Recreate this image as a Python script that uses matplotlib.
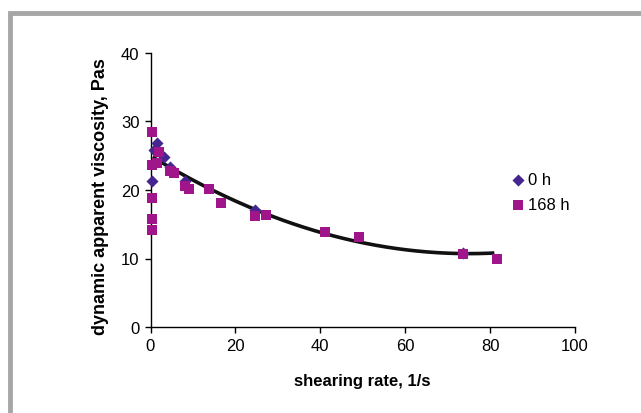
import numpy as np
import matplotlib
matplotlib.use("Agg")
import matplotlib.pyplot as plt
from matplotlib.lines import Line2D

# 0 h series
x_0h = [0.4, 0.8, 1.6, 3.1, 4.7, 8.2, 24.7, 73.6]
y_0h = [21.3, 25.9, 26.9, 24.8, 23.3, 21.3, 17.1, 10.8]

# 168 h series
x_168h = [0.4, 0.4, 0.4, 0.4, 0.4, 1.6, 1.9, 4.7, 5.5, 8.2, 9.0, 13.7, 16.5,
          24.7, 27.3, 41.0, 49.0, 73.6, 81.7]
y_168h = [28.5, 23.7, 18.9, 15.8, 14.2, 24.0, 25.5, 22.8, 22.5, 20.6, 20.1,
          20.1, 18.1, 16.2, 16.3, 13.9, 13.1, 10.7, 9.9]

# polynomial trend line coefficients (a*x^2 + b*x + c) and range
trend_coef = [0.00254, -0.381, 25.0]
trend_range = [0.5, 81.0]

x_ticks = [0, 20, 40, 60, 80, 100]
y_ticks = [0, 10, 20, 30, 40]

plt.rcParams['font.family'] = ['Liberation Sans', 'DejaVu Sans']

W, H = 641, 414
fig = plt.figure(figsize=(W / 100, H / 100), dpi=100)

# gray outer frame (only top and left edges visible)
fx, fy = 10 / W, 1 - 14 / H
fig.add_artist(Line2D([fx, fx, 1.05], [-0.05, fy, fy], transform=fig.transFigure,
                      color='#a6a6a6', linewidth=3.5, solid_joinstyle='miter'))

ax = fig.add_axes([150.5 / W, 1 - 328 / H, (575 - 150.5) / W, (328 - 54) / H])

tx = np.linspace(trend_range[0], trend_range[1], 200)
ax.plot(tx, np.polyval(trend_coef, tx), color='#111111', lw=2.6, zorder=3,
        solid_capstyle='butt')

ax.scatter(x_0h, y_0h, marker='D', s=38, color='#45258f', zorder=4,
           linewidths=0, label='0 h', clip_on=False)
ax.scatter(x_168h, y_168h, marker='s', s=60, color='#a0168a', zorder=5,
           linewidths=0, label='168 h', clip_on=False)

ax.set_xlim(0, 100)
ax.set_ylim(0, 40)
ax.set_xticks(x_ticks)
ax.set_yticks(y_ticks)
for s in ['top', 'right']:
    ax.spines[s].set_visible(False)
for s in ['left', 'bottom']:
    ax.spines[s].set_linewidth(1.0)
ax.tick_params(direction='out', length=4, width=1, labelsize=12, pad=4)

ax.set_xlabel('shearing rate, 1/s', fontsize=12, fontweight='bold', labelpad=14)
ax.set_ylabel('dynamic apparent viscosity, Pas', fontsize=13,
              fontweight='bold', labelpad=11)
ax.yaxis.set_label_coords(-0.098, 0.48)

leg = ax.legend(loc='upper left', bbox_to_anchor=(0.83, 0.59), frameon=False,
                fontsize=12, handletextpad=0.1, handlelength=1.0,
                labelspacing=0.6, borderaxespad=0)

fig.savefig('out.png', dpi=100)
